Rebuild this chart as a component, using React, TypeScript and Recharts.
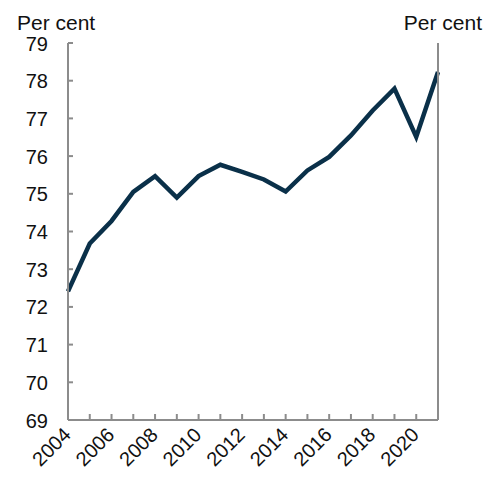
import React from 'react';
import { LineChart, Line, XAxis, YAxis } from 'recharts';

const years = [
  2004, 2005, 2006, 2007, 2008, 2009, 2010, 2011, 2012,
  2013, 2014, 2015, 2016, 2017, 2018, 2019, 2020, 2021,
];
const rate = [
  72.41, 73.68, 74.28, 75.05, 75.47, 74.9, 75.47, 75.77, 75.58,
  75.38, 75.06, 75.62, 75.98, 76.55, 77.21, 77.79, 76.51, 78.23,
];
const yTicks = [69, 70, 71, 72, 73, 74, 75, 76, 77, 78, 79];

const data = years.map((year, i) => ({ year, value: rate[i] }));

const AXIS = '#8c8c8c';
const FONT = 'Liberation Sans, Arial, sans-serif';

const LeftTick = ({ x, y, payload }: any) => (
  <g>
    <line x1={x} x2={x + 5} y1={y} y2={y} stroke={AXIS} strokeWidth={2} />
    <text x={x - 20} y={y} dy={7.5} textAnchor="end" fontSize={20} fill="#111" fontFamily={FONT}>
      {payload.value}
    </text>
  </g>
);

const RightTick = ({ x, y, payload }: any) => (
  <g>
    <line x1={x - 5} x2={x} y1={y} y2={y} stroke={AXIS} strokeWidth={2} />
    <text x={x + 17} y={y} dy={7.5} textAnchor="start" fontSize={20} fill="#111" fontFamily={FONT}>
      {payload.value}
    </text>
  </g>
);

const BottomTick = ({ x, y, payload }: any) => (
  <g>
    <line x1={x} x2={x} y1={y - 6} y2={y} stroke={AXIS} strokeWidth={2} />
    {payload.value % 2 === 0 && (
      <text
        x={x + 4}
        y={y + 16}
        textAnchor="end"
        fontSize={20}
        fill="#111"
        fontFamily={FONT}
        transform={`rotate(-45 ${x + 4} ${y + 16})`}
      >
        {payload.value}
      </text>
    )}
  </g>
);

const unitStyle: React.CSSProperties = {
  position: 'absolute',
  top: 12,
  fontSize: 21,
  fontFamily: FONT,
  color: '#111',
  lineHeight: '22px',
  whiteSpace: 'pre',
};

export default function App() {
  return (
    <div style={{ position: 'absolute', left: 0, top: 0, width: 499, height: 480, background: '#fff' }}>
      <div style={{ ...unitStyle, left: 17 }}>Per cent</div>
      <div style={{ ...unitStyle, right: 17, textAlign: 'right' }}>Per cent</div>
      <LineChart width={499} height={480} data={data} margin={{ top: 43, right: 0, bottom: 0, left: 0 }}>
        <XAxis
          dataKey="year"
          type="number"
          domain={[2004, 2021]}
          ticks={years}
          interval={0}
          tickSize={0}
          tickMargin={0}
          height={60}
          axisLine={{ stroke: AXIS, strokeWidth: 2 }}
          tickLine={false}
          tick={<BottomTick />}
        />
        <YAxis
          yAxisId="left"
          orientation="left"
          domain={[69, 79]}
          ticks={yTicks}
          interval={0}
          width={68}
          tickSize={0}
          tickMargin={0}
          axisLine={{ stroke: AXIS, strokeWidth: 2 }}
          tickLine={false}
          tick={<LeftTick />}
        />
        <YAxis
          yAxisId="right"
          orientation="right"
          domain={[69, 79]}
          ticks={yTicks}
          interval={0}
          width={61}
          tickSize={0}
          tickMargin={0}
          axisLine={{ stroke: AXIS, strokeWidth: 2 }}
          tickLine={false}
          tick={<RightTick />}
        />
        <Line
          yAxisId="left"
          type="linear"
          dataKey="value"
          stroke="#0a3049"
          strokeWidth={4.5}
          dot={false}
          isAnimationActive={false}
        />
      </LineChart>
    </div>
  );
}
